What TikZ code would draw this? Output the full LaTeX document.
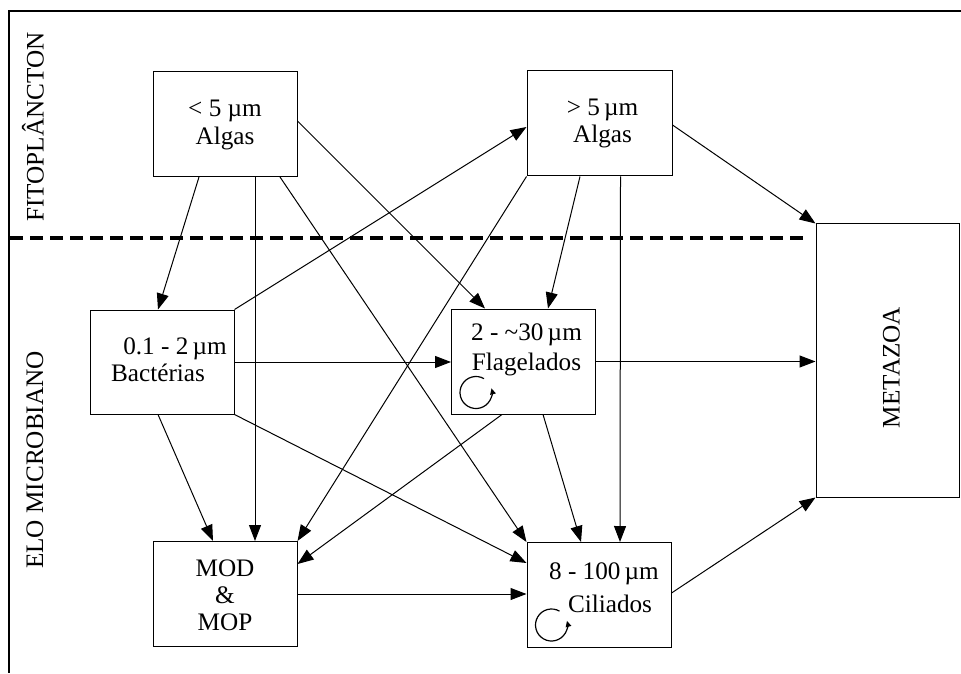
\documentclass[tikz,border=0pt]{standalone}
\usepackage{fontspec}
\setmainfont{Liberation Serif}
\usetikzlibrary{arrows.meta, positioning, calc}

\begin{document}
\begin{tikzpicture}[
  x=0.5pt, y=-0.5pt,
  font=\fontsize{12.6}{13.6}\selectfont,
  box/.style={rectangle, draw, line width=0.5pt, minimum width=72pt,
              minimum height=52.5pt, inner sep=0pt},
  tallbox/.style={box, minimum width=71.5pt, minimum height=136.5pt},
  txt/.style={align=center, inner sep=0pt},
  side/.style={rotate=90, inner sep=0pt},
  arr/.style={-{Triangle[length=8pt,width=6pt]}, line width=0.5pt},
  cyc/.style={-{Triangle[length=3pt,width=2.8pt]}, line width=0.6pt},
  frameline/.style={line width=1.4pt},
  divider/.style={line width=1.9pt, dash pattern=on 6.5pt off 3.5pt}
]
\useasboundingbox (0,0) rectangle (961,673);

% ── Frame and zone divider ──
\draw[frameline] (961,11) -- (9,11) -- (9,673);
\draw[divider] (10,238) -- (807,238);

% ── Zone labels ──
\node[side] (fito) at (33,127) {FITOPLÂNCTON};
\node[side] (elo)  at (35,460) {ELO MICROBIANO};

% ── Boxes ──
\node[box] (sma) at (225,124) {};
\node[box, minimum width=72.5pt] (lga) at (599.5,123.5) {};
\node[box, minimum height=52pt] (bac) at (162,362) {};
\node[box] (fla) at (523.5,361.5) {};
\node[box] (mod) at (225,594) {};
\node[box] (cil) at (599,595) {};
\node[tallbox] (met) at (887.5,360.5) {};

% ── Box texts ──
\node[txt] (smatxt) at ($(sma)+(0,1)$) {< 5 µm\\Algas};
\node[txt] (lgatxt) at ($(lga)+(3,0)$) {> 5\,µm\\Algas};
\node[txt] (bactxt) at ($(bac)+(-4,-2)$) {\hspace*{17pt}0.1 - 2\,µm\\Bactérias};
\node[txt] (flatxt) at ($(fla)+(3,-12)$) {2 - \textasciitilde30\,µm\\[1.5pt]Flagelados};
\node[txt] (modtxt) at ($(mod)+(0,1)$) {MOD\\\&\\MOP};
\node[txt] (ciltxt) at ($(cil)+(5,-7)$) {8 - 100\,µm\\[3pt]\hspace*{6pt}Ciliados};
\node[side] (mettxt) at ($(met)+(4,7)$) {METAZOA};

% ── Self-loops ──
\draw[cyc] ($(fla.south west)+(25,-22)$) ++(60:8pt)
  arc[start angle=60, end angle=375, radius=8pt];
\draw[cyc] ($(cil.south west)+(25,-23)$) ++(60:8pt)
  arc[start angle=60, end angle=375, radius=8pt];

% ── Arrows from small algae ──
\draw[arr] ($(sma.south)+(-26,0)$) -- ($(bac.north)+(-4,0)$);
\draw[arr] ($(sma.south)+(30,0)$)  -- ($(mod.north)+(30,0)$);
\draw[arr] ($(sma.south)+(55,0)$)  -- (cil.north west);
\draw[arr] ($(sma.east)+(0,-3)$)   -- ($(fla.north west)+(34,0)$);

% ── Arrows from bacteria ──
\draw[arr] (bac.north east) -- ($(lga.west)+(0,3.5)$);
\draw[arr] (bac.east) -- (fla.west |- bac.east);
\draw[arr] (bac.south east) -- ($(cil.west)+(0,-32)$);
\draw[arr] ($(bac.south)+(-4,0)$) -- ($(mod.north)+(-12,0)$);

% ── Arrows from large algae ──
\draw[arr] (lga.south west) -- (mod.north east);
\draw[arr] ($(lga.south)+(-19.5,0)$) -- ($(fla.north)+(24.5,0)$);
\draw[arr] ($(lga.south)+(21,0)$)    -- ($(cil.north)+(21,0)$);
\draw[arr] ($(lga.east)+(0,1.5)$)    -- (met.north west);

% ── Arrows from flagellates ──
\draw[arr] (fla.east) -- (met.west |- fla.east);
\draw[arr] ($(fla.south)+(-21.5,0)$) -- ($(mod.east)+(0,-30)$);
\draw[arr] ($(fla.south)+(19.5,0)$)  -- ($(cil.north)+(-18,0)$);

% ── Arrows to ciliates and metazoa ──
\draw[arr] (mod.east) -- (cil.west |- mod.east);
\draw[arr] ($(cil.east)+(0,-2)$) -- (met.south west);

\end{tikzpicture}
\end{document}
